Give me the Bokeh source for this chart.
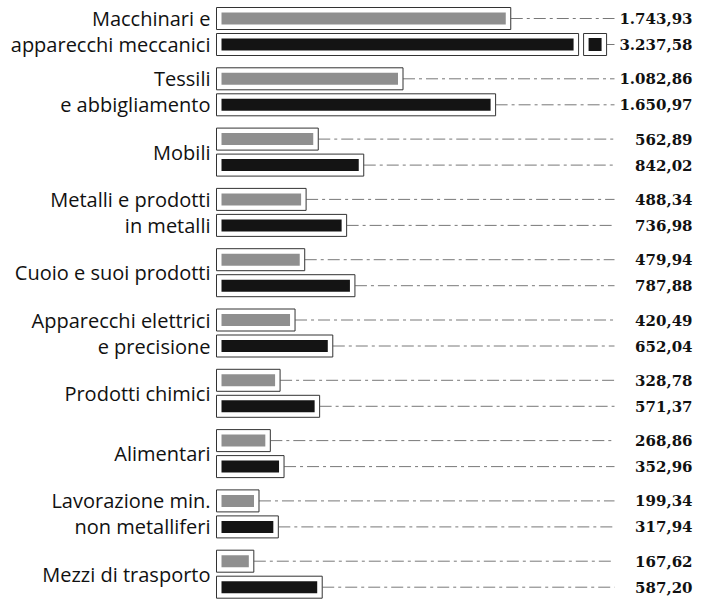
from bokeh.plotting import figure
from bokeh.models import Range1d
from bokeh.core.properties import value
from bokeh.embed import file_html
from bokeh.resources import INLINE

# ---- data -------------------------------------------------------------
categories = [
    "Macchinari e\napparecchi meccanici",
    "Tessili\ne abbigliamento",
    "Mobili",
    "Metalli e prodotti\nin metalli",
    "Cuoio e suoi prodotti",
    "Apparecchi elettrici\ne precisione",
    "Prodotti chimici",
    "Alimentari",
    "Lavorazione min.\nnon metalliferi",
    "Mezzi di trasporto",
]
series_grey = [1743.93, 1082.86, 562.89, 488.34, 479.94, 420.49, 328.78, 268.86, 199.34, 167.62]
series_black = [3237.58, 1650.97, 842.02, 736.98, 787.88, 652.04, 571.37, 352.96, 317.94, 587.20]

# ---- layout constants --------------------------------------------------
W, H = 700, 600
K = 0.163            # px per unit on the value scale
X0_PX = 221          # px position of value 0 inside the figure
BREAK = 2160         # bars longer than this are drawn broken
GROUP_PX = 60.3      # px per category
TOP_PX = 31          # px of first category centre
OFF = 13 / GROUP_PX  # half distance between the two bars of a category
BOX_H = 22 / GROUP_PX
FILL_H = 12 / GROUP_PX
PAD = 5 / K
LEADER_END = (614 - X0_PX) / K
VAL_RIGHT = (692 - X0_PX) / K

def fmt(v):
    s = f"{v:,.2f}"
    return s.replace(",", "#").replace(".", ",").replace("#", ".")

p = figure(width=W, height=H, output_backend="svg", toolbar_location=None,
           x_range=Range1d(-X0_PX / K, (W - X0_PX) / K),
           y_range=Range1d((H - TOP_PX) / GROUP_PX, -TOP_PX / GROUP_PX),
           min_border=0)
p.axis.visible = False
p.grid.visible = False
p.outline_line_color = None

idx = list(range(len(categories)))

rows = []
for i in idx:
    for v, dy, col in ((series_grey[i], -OFF, "#8f8f8f"), (series_black[i], OFF, "#141414")):
        rows.append((i + dy, v, col))

ys = [r[0] for r in rows]
vals = [r[1] for r in rows]
cols = [r[2] for r in rows]
shown = [min(v, BREAK) for v in vals]

# boxes around the bars
p.quad(left=[-PAD] * len(rows), right=[s + PAD for s in shown],
       bottom=[y + BOX_H / 2 for y in ys], top=[y - BOX_H / 2 for y in ys],
       fill_color="white", line_color="#333333", line_width=1)
# bar fills
p.hbar(y=ys, left=0, right=shown, height=FILL_H, fill_color=cols, line_color=None)

# broken bar marker
lead_start = []
for y, v, s in zip(ys, vals, shown):
    if v > BREAK:
        bl = s + PAD + 5 / K
        br = bl + 23 / K
        p.quad(left=[bl], right=[br], bottom=[y + BOX_H / 2], top=[y - BOX_H / 2],
               fill_color="white", line_color="#333333", line_width=1)
        p.quad(left=[bl + 5 / K], right=[br - 5 / K], bottom=[y + 6.5 / GROUP_PX],
               top=[y - 6.5 / GROUP_PX], fill_color="#141414", line_color=None)
        lead_start.append(br)
    else:
        lead_start.append(s + PAD)

# leader lines
xs = [[a, LEADER_END] for a in lead_start if a < LEADER_END]
yl = [[y, y] for a, y in zip(lead_start, ys) if a < LEADER_END]
p.multi_line(xs=xs, ys=yl, line_color="#555555", line_width=0.8, line_dash="12 4 3 4")

# value labels
p.text(x=[VAL_RIGHT] * len(rows), y=ys, text=[fmt(v) for v in vals],
       text_align="right", text_baseline="middle",
       text_font=value("DejaVu Serif"), text_font_style="bold",
       text_font_size="15px", text_color="#111111")

# category labels
lx, ly, lt = [], [], []
for i, c in zip(idx, categories):
    parts = c.split("\n")
    if len(parts) == 2:
        lx += [0, 0]
        ly += [i - OFF, i + OFF]
        lt += parts
    else:
        lx.append(0)
        ly.append(i)
        lt.append(c)
p.text(x=lx, y=ly, text=lt, x_offset=-11, text_align="right", text_baseline="middle",
       text_font=value("Open Sans"), text_font_size="20px", text_color="#111111")

open("out.html", "w").write(file_html(p, INLINE))
